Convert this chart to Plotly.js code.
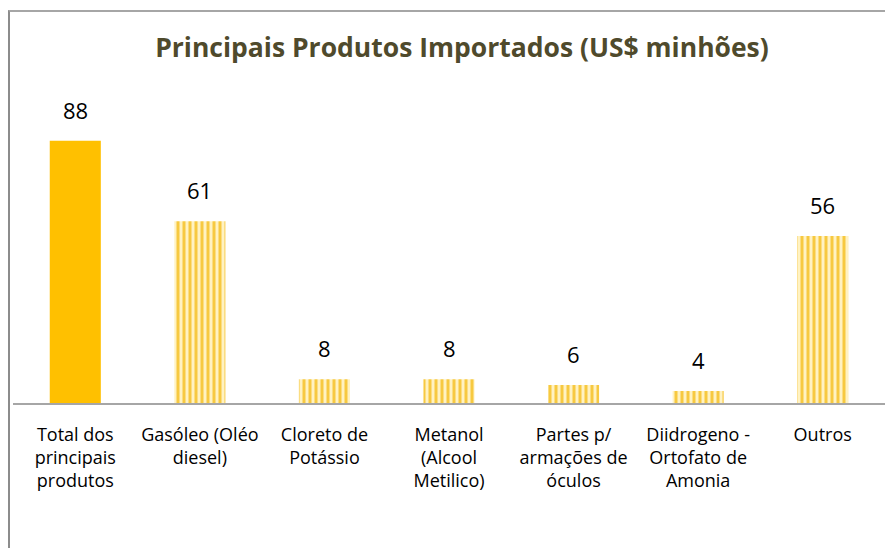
<!DOCTYPE html>
<html>
<head>
<meta charset="utf-8">
<script src="https://cdn.plot.ly/plotly-3.0.1.min.js"></script>
<style>
  body { margin: 0; background: #fff; overflow: hidden; }
  #chart { position: absolute; left: 0; top: 0; width: 885px; height: 548px; }
  #frame { position: absolute; left: 8px; top: 10px; width: 900px; height: 600px;
           border-top: 2px solid #a6a6a6; border-left: 2px solid #8c8c8c; pointer-events: none; }
</style>
</head>
<body>
<div id="chart"></div>
<div id="frame"></div>
<script>
var categories = [
    "Total dos<br>principais<br>produtos",
    "Gasóleo (Oléo<br>diesel)",
    "Cloreto de<br>Potássio",
    "Metanol<br>(Alcool<br>Metilico)",
    "Partes p/<br>armações de<br>óculos",
    "Diidrogeno -<br>Ortofato de<br>Amonia",
    "Outros"
];
var values = [88, 61, 8, 8, 6, 4, 56];

var totalTrace = {
    x: [categories[0]],
    y: [values[0]],
    type: 'bar',
    width: 0.41,
    marker: { color: '#ffc000' },
    hoverinfo: 'skip'
};

var partsTrace = {
    x: categories.slice(1),
    y: values.slice(1),
    type: 'bar',
    width: 0.41,
    marker: {
        color: '#fff2c2',
        pattern: { shape: '|', fgcolor: '#f7c940', bgcolor: '#fff2c2', size: 6, solidity: 0.5 }
    },
    hoverinfo: 'skip'
};

var labels = categories.map(function(c, i) {
    return {
        x: c, y: values[i], text: String(values[i]),
        xref: 'x', yref: 'y', yanchor: 'bottom', showarrow: false,
        yshift: 14,
        font: { family: 'Open Sans, sans-serif', size: 22, color: '#000' }
    };
});

var layout = {
    width: 885,
    height: 548,
    margin: { l: 13, r: 0, t: 105, b: 145 },
    paper_bgcolor: 'rgba(0,0,0,0)',
    plot_bgcolor: 'rgba(0,0,0,0)',
    showlegend: false,
    bargap: 0.59,
    title: {
        text: '<b>Principais Produtos Importados (US$ minhões)</b>',
        x: 0.522, xanchor: 'center',
        y: 0.913, yanchor: 'middle',
        font: { family: 'Open Sans, sans-serif', size: 26.5, color: '#4f4a2c' }
    },
    xaxis: {
        type: 'category',
        showline: true,
        linecolor: '#a6a6a6',
        linewidth: 2,
        ticks: '',
        showgrid: false,
        tickfont: { family: 'Open Sans, sans-serif', size: 18, color: '#000' },
        ticklabelstandoff: 14
    },
    yaxis: {
        range: [0, 100],
        visible: false,
        showgrid: false,
        zeroline: false
    },
    annotations: labels
};

Plotly.newPlot('chart', [totalTrace, partsTrace], layout, { staticPlot: true });
</script>
</body>
</html>
